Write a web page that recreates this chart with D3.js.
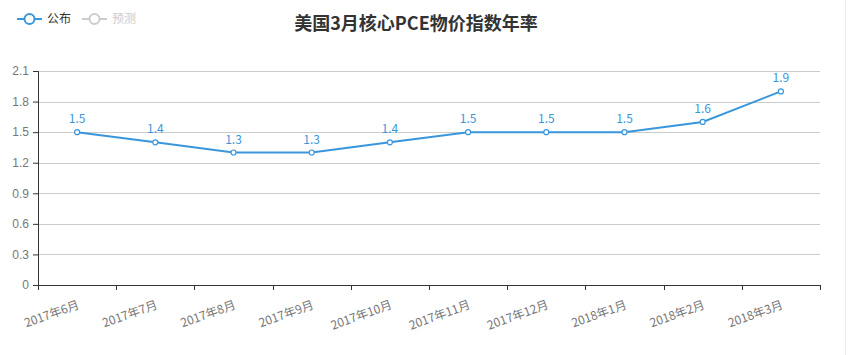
<!DOCTYPE html>
<html>
<head>
<meta charset="utf-8">
<script src="https://cdn.jsdelivr.net/npm/d3@7"></script>
<style>
  body { margin: 0; background: #fff; }
  svg { font-family: "Noto Sans CJK SC", "Noto Sans", sans-serif; }
</style>
</head>
<body>
<div id="chart"></div>
<script>
// Data
const months = ['2017年6月', '2017年7月', '2017年8月', '2017年9月', '2017年10月',
    '2017年11月', '2017年12月', '2018年1月', '2018年2月', '2018年3月'];
const published = [1.5, 1.4, 1.3, 1.3, 1.4, 1.5, 1.5, 1.5, 1.6, 1.9];
const yTicks = [0, 0.3, 0.6, 0.9, 1.2, 1.5, 1.8, 2.1];

const width = 855, height = 355;
const margin = [71, 35, 70, 38]; // top, right, bottom, left
const blue = '#3a96dc';

const svg = d3.select('#chart').append('svg')
    .attr('width', width)
    .attr('height', height);

// faint right border
svg.append('line')
    .attr('x1', 845.5).attr('x2', 845.5)
    .attr('y1', 0).attr('y2', height)
    .attr('stroke', '#e6eef5');

const chartW = width - margin[1] - margin[3];
const chartH = height - margin[0] - margin[2];

const chart = svg.append('g')
    .attr('transform', `translate(${margin[3]}, ${margin[0]})`);

const scaleX = d3.scaleBand().domain(months).range([0, chartW]);
const scaleY = d3.scaleLinear().domain([0, 2.1]).range([chartH, 0]);

// grid
chart.append('g')
    .selectAll('line')
    .data(yTicks.filter(d => d > 0))
    .join('line')
    .attr('x1', 0).attr('x2', chartW)
    .attr('y1', d => Math.round(scaleY(d)) + 0.5)
    .attr('y2', d => Math.round(scaleY(d)) + 0.5)
    .attr('stroke', '#ccc');

// y axis
const axisY = chart.append('g')
    .call(d3.axisLeft(scaleY).tickValues(yTicks).tickSize(5).tickPadding(4)
        .tickFormat(d => d3.format('~g')(d)));
axisY.select('.domain').attr('stroke', '#333');
axisY.selectAll('.tick line').attr('stroke', '#333');
axisY.selectAll('.tick text').attr('fill', '#777').attr('font-size', 12);

// x axis with ticks at band boundaries
const axisX = chart.append('g')
    .attr('transform', `translate(0, ${chartH})`);
axisX.append('line')
    .attr('x1', 0).attr('x2', chartW)
    .attr('y1', 0.5).attr('y2', 0.5)
    .attr('stroke', '#333');
const edges = months.map(m => scaleX(m)).concat([chartW]);
axisX.selectAll('line.tick')
    .data(edges)
    .join('line')
    .classed('tick', true)
    .attr('x1', d => Math.round(d) + 0.5).attr('x2', d => Math.round(d) + 0.5)
    .attr('y1', 0).attr('y2', 5)
    .attr('stroke', '#333');
axisX.selectAll('text')
    .data(months)
    .join('text')
    .attr('transform', d => `translate(${scaleX(d) + scaleX.bandwidth() / 2}, 15) rotate(-20)`)
    .attr('text-anchor', 'end')
    .attr('dy', '0.71em')
    .attr('fill', '#777')
    .attr('font-size', 12)
    .text(d => d);

// line
const cx = (d, i) => scaleX(months[i]) + scaleX.bandwidth() / 2;
const lineGen = d3.line()
    .x(cx)
    .y(d => scaleY(d));

chart.append('path')
    .datum(published)
    .attr('d', lineGen)
    .attr('fill', 'none')
    .attr('stroke', blue)
    .attr('stroke-width', 2);

chart.selectAll('circle.pt')
    .data(published)
    .join('circle')
    .classed('pt', true)
    .attr('cx', cx)
    .attr('cy', d => scaleY(d))
    .attr('r', 2.5)
    .attr('fill', '#fff')
    .attr('stroke', blue)
    .attr('stroke-width', 1.2);

chart.selectAll('text.lbl')
    .data(published)
    .join('text')
    .classed('lbl', true)
    .attr('x', cx)
    .attr('y', d => scaleY(d) - 9)
    .attr('text-anchor', 'middle')
    .attr('fill', blue)
    .attr('font-size', 12)
    .text(d => d3.format('.1f')(d));

// title
svg.append('text')
    .attr('x', 416).attr('y', 30)
    .attr('text-anchor', 'middle')
    .attr('font-size', 18)
    .attr('font-weight', 'bold')
    .attr('fill', '#333')
    .text('美国3月核心PCE物价指数年率');

// legend
const legendItems = [
    { name: '公布', color: blue, text: '#333' },
    { name: '预测', color: '#ccc', text: '#ccc' }
];
const legend = svg.append('g').attr('transform', 'translate(17, 19)');
legendItems.forEach((item, i) => {
    const g = legend.append('g').attr('transform', `translate(${i * 65}, 0)`);
    g.append('line')
        .attr('x1', 0).attr('x2', 25)
        .attr('y1', 0).attr('y2', 0)
        .attr('stroke', item.color).attr('stroke-width', 2);
    g.append('circle')
        .attr('cx', 12.5).attr('cy', 0).attr('r', 5)
        .attr('fill', '#fff')
        .attr('stroke', item.color).attr('stroke-width', 2);
    g.append('text')
        .attr('x', 30).attr('y', 0)
        .attr('dy', '0.35em')
        .attr('font-size', 12)
        .attr('fill', item.text)
        .text(item.name);
});
</script>
</body>
</html>
